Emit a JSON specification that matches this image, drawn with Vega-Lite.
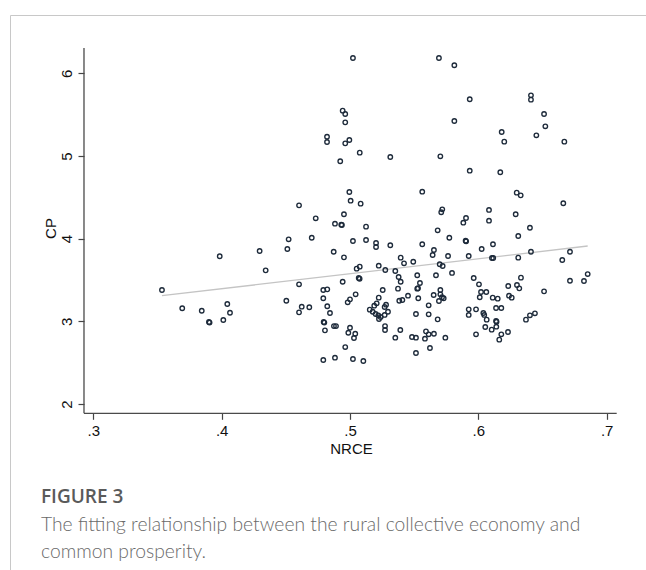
{
  "$schema": "https://vega.github.io/schema/vega-lite/v6.json",
  "width": 636,
  "height": 555,
  "autosize": "none",
  "padding": {"left": 10, "top": 15, "right": 0, "bottom": 0},
  "background": "white",
  "config": {
    "view": {"stroke": "#c8c8c8", "strokeWidth": 1},
    "axis": {"grid": false, "domain": false}
  },
  "title": {
    "text": "FIGURE 3",
    "subtitle": ["The fitting relationship between the rural collective economy and", "common prosperity."],
    "orient": "bottom",
    "anchor": "start",
    "frame": "group",
    "baseline": "top",
    "offset": -82,
    "dx": 31,
    "font": "Open Sans",
    "fontSize": 19,
    "fontWeight": 600,
    "color": "#5a5a5a",
    "subtitleFont": "Lato",
    "subtitleFontSize": 19.3,
    "subtitleFontWeight": 300,
    "subtitleColor": "#6a6a6a",
    "subtitlePadding": 9,
    "subtitleLineHeight": 27
  },
  "datasets": {
    "axislines": [
      {"x": 0.29275, "y": 1.8875, "x2": 0.29275, "y2": 6.306},
      {"x": 0.29275, "y": 1.8875, "x2": 0.7078, "y2": 1.8875}
    ],
    "fit": [
      {"x": 0.3535, "y": 3.31},
      {"x": 0.6852, "y": 3.911}
    ],
    "points": [
      {"x": 0.5023, "y": 6.185}, {"x": 0.5693, "y": 6.185}, {"x": 0.5813, "y": 6.097},
      {"x": 0.5933, "y": 5.686}, {"x": 0.641, "y": 5.734}, {"x": 0.641, "y": 5.681},
      {"x": 0.6512, "y": 5.508}, {"x": 0.4943, "y": 5.548}, {"x": 0.4963, "y": 5.508},
      {"x": 0.4963, "y": 5.407}, {"x": 0.5813, "y": 5.423}, {"x": 0.6182, "y": 5.29},
      {"x": 0.6202, "y": 5.173}, {"x": 0.6522, "y": 5.359}, {"x": 0.6452, "y": 5.25},
      {"x": 0.667, "y": 5.173}, {"x": 0.4995, "y": 5.193}, {"x": 0.4963, "y": 5.153},
      {"x": 0.5076, "y": 5.04}, {"x": 0.5314, "y": 4.988}, {"x": 0.5704, "y": 4.996},
      {"x": 0.4924, "y": 4.936}, {"x": 0.5933, "y": 4.822}, {"x": 0.6171, "y": 4.803},
      {"x": 0.5563, "y": 4.568}, {"x": 0.4995, "y": 4.564}, {"x": 0.6299, "y": 4.556},
      {"x": 0.633, "y": 4.524}, {"x": 0.4821, "y": 5.233}, {"x": 0.4821, "y": 5.169},

      {"x": 0.3535, "y": 3.379}, {"x": 0.3693, "y": 3.158}, {"x": 0.3845, "y": 3.128},
      {"x": 0.4044, "y": 3.21}, {"x": 0.4065, "y": 3.104}, {"x": 0.4013, "y": 3.016},
      {"x": 0.3901, "y": 2.992}, {"x": 0.3906, "y": 2.985}, {"x": 0.3985, "y": 3.787},
      {"x": 0.4296, "y": 3.851}, {"x": 0.4343, "y": 3.617}, {"x": 0.4504, "y": 3.249},
      {"x": 0.4512, "y": 3.875}, {"x": 0.4522, "y": 3.992}, {"x": 0.4603, "y": 4.403},
      {"x": 0.4702, "y": 4.011}, {"x": 0.4603, "y": 3.448}, {"x": 0.4792, "y": 3.379},
      {"x": 0.4823, "y": 3.387}, {"x": 0.4624, "y": 3.177}, {"x": 0.4683, "y": 3.17},
      {"x": 0.4603, "y": 3.109}, {"x": 0.4792, "y": 3.279}, {"x": 0.4823, "y": 3.182},
      {"x": 0.4844, "y": 3.101}, {"x": 0.4795, "y": 2.992}, {"x": 0.48, "y": 2.985},
      {"x": 0.4805, "y": 2.891}, {"x": 0.4792, "y": 2.532}, {"x": 0.4733, "y": 4.246},

      {"x": 0.5005, "y": 4.459}, {"x": 0.5083, "y": 4.423}, {"x": 0.6662, "y": 4.428},
      {"x": 0.4953, "y": 4.295}, {"x": 0.5719, "y": 4.355}, {"x": 0.5711, "y": 4.319},
      {"x": 0.6083, "y": 4.347}, {"x": 0.6291, "y": 4.295}, {"x": 0.5904, "y": 4.25},
      {"x": 0.5883, "y": 4.193}, {"x": 0.6083, "y": 4.217}, {"x": 0.4883, "y": 4.181},
      {"x": 0.4932, "y": 4.169}, {"x": 0.4937, "y": 4.165}, {"x": 0.5125, "y": 4.145},
      {"x": 0.6402, "y": 4.132}, {"x": 0.5683, "y": 4.101}, {"x": 0.6311, "y": 4.032},
      {"x": 0.5774, "y": 4.011}, {"x": 0.5023, "y": 3.972}, {"x": 0.5125, "y": 3.984},
      {"x": 0.5203, "y": 3.947}, {"x": 0.5203, "y": 3.899}, {"x": 0.5314, "y": 3.92},
      {"x": 0.5563, "y": 3.932}, {"x": 0.5901, "y": 3.975}, {"x": 0.5905, "y": 3.968},
      {"x": 0.6114, "y": 3.932}, {"x": 0.4873, "y": 3.842}, {"x": 0.5654, "y": 3.863},
      {"x": 0.5644, "y": 3.802}, {"x": 0.6026, "y": 3.875}, {"x": 0.641, "y": 3.842},
      {"x": 0.6714, "y": 3.842}, {"x": 0.4953, "y": 3.774}, {"x": 0.5395, "y": 3.77},
      {"x": 0.5421, "y": 3.702}, {"x": 0.5493, "y": 3.721}, {"x": 0.5764, "y": 3.79},
      {"x": 0.5925, "y": 3.79}, {"x": 0.6106, "y": 3.766}, {"x": 0.6116, "y": 3.766},
      {"x": 0.6311, "y": 3.77}, {"x": 0.6654, "y": 3.742}, {"x": 0.5052, "y": 3.637},
      {"x": 0.5076, "y": 3.661}, {"x": 0.5224, "y": 3.673}, {"x": 0.5275, "y": 3.621},
      {"x": 0.5353, "y": 3.609}, {"x": 0.5699, "y": 3.69}, {"x": 0.5722, "y": 3.669},
      {"x": 0.5795, "y": 3.585}, {"x": 0.567, "y": 3.557}, {"x": 0.5524, "y": 3.557},
      {"x": 0.5068, "y": 3.524}, {"x": 0.5075, "y": 3.515}, {"x": 0.5379, "y": 3.536},
      {"x": 0.5395, "y": 3.479}, {"x": 0.4943, "y": 3.479}, {"x": 0.5964, "y": 3.524},
      {"x": 0.6005, "y": 3.448}, {"x": 0.6852, "y": 3.572}, {"x": 0.6714, "y": 3.491},
      {"x": 0.6823, "y": 3.488}, {"x": 0.6332, "y": 3.528}, {"x": 0.5545, "y": 3.464},
      {"x": 0.5524, "y": 3.395}, {"x": 0.553, "y": 3.4}, {"x": 0.5255, "y": 3.379},
      {"x": 0.5374, "y": 3.395}, {"x": 0.5704, "y": 3.379}, {"x": 0.5704, "y": 3.327},
      {"x": 0.6301, "y": 3.439}, {"x": 0.6319, "y": 3.399}, {"x": 0.6233, "y": 3.427},
      {"x": 0.6512, "y": 3.363}, {"x": 0.5044, "y": 3.327}, {"x": 0.5452, "y": 3.31},
      {"x": 0.5652, "y": 3.318}, {"x": 0.573, "y": 3.279}, {"x": 0.5717, "y": 3.291},
      {"x": 0.6021, "y": 3.355}, {"x": 0.6062, "y": 3.355}, {"x": 0.6011, "y": 3.291},
      {"x": 0.6112, "y": 3.286}, {"x": 0.6151, "y": 3.274}, {"x": 0.6239, "y": 3.31},
      {"x": 0.626, "y": 3.286}, {"x": 0.5224, "y": 3.286}, {"x": 0.5532, "y": 3.279},
      {"x": 0.5, "y": 3.266}, {"x": 0.4982, "y": 3.23}, {"x": 0.5408, "y": 3.258},
      {"x": 0.5384, "y": 3.249}, {"x": 0.5693, "y": 3.246}, {"x": 0.5208, "y": 3.218},
      {"x": 0.5189, "y": 3.189}, {"x": 0.5281, "y": 3.201}, {"x": 0.527, "y": 3.173},
      {"x": 0.5613, "y": 3.194}, {"x": 0.6138, "y": 3.161}, {"x": 0.6179, "y": 3.161},
      {"x": 0.5154, "y": 3.141}, {"x": 0.5177, "y": 3.116}, {"x": 0.5296, "y": 3.116},
      {"x": 0.5925, "y": 3.145}, {"x": 0.5925, "y": 3.077}, {"x": 0.5982, "y": 3.145},
      {"x": 0.6039, "y": 3.101}, {"x": 0.6046, "y": 3.077}, {"x": 0.6065, "y": 3.02},
      {"x": 0.6441, "y": 3.097}, {"x": 0.6402, "y": 3.073}, {"x": 0.6371, "y": 3.02},
      {"x": 0.5514, "y": 3.089}, {"x": 0.5613, "y": 3.085}, {"x": 0.5221, "y": 3.073},
      {"x": 0.5239, "y": 3.052}, {"x": 0.527, "y": 3.077}, {"x": 0.52, "y": 3.089},
      {"x": 0.5226, "y": 3.028}, {"x": 0.5683, "y": 3.024}, {"x": 0.6138, "y": 3.004},
      {"x": 0.6142, "y": 2.995}, {"x": 0.4875, "y": 2.943}, {"x": 0.4891, "y": 2.943},
      {"x": 0.5, "y": 2.923}, {"x": 0.4987, "y": 2.862}, {"x": 0.5041, "y": 2.85},
      {"x": 0.5031, "y": 2.798}, {"x": 0.5273, "y": 2.943}, {"x": 0.5273, "y": 2.895},
      {"x": 0.5392, "y": 2.895}, {"x": 0.6054, "y": 2.931}, {"x": 0.6104, "y": 2.899},
      {"x": 0.614, "y": 2.935}, {"x": 0.6231, "y": 2.871}, {"x": 0.6179, "y": 2.843},
      {"x": 0.6163, "y": 2.778}, {"x": 0.5982, "y": 2.843}, {"x": 0.5592, "y": 2.879},
      {"x": 0.5613, "y": 2.843}, {"x": 0.5654, "y": 2.85}, {"x": 0.5584, "y": 2.79},
      {"x": 0.5483, "y": 2.81}, {"x": 0.5514, "y": 2.802}, {"x": 0.5353, "y": 2.802},
      {"x": 0.5743, "y": 2.802}, {"x": 0.4963, "y": 2.689}, {"x": 0.5623, "y": 2.677},
      {"x": 0.5514, "y": 2.617}, {"x": 0.4883, "y": 2.56}, {"x": 0.5023, "y": 2.544},
      {"x": 0.5104, "y": 2.52}
    ]
  },
  "layer": [
    {
      "data": {"name": "axislines"},
      "mark": {"type": "rule", "color": "#4a4a4a", "strokeWidth": 1.3},
      "encoding": {
        "x": {
          "field": "x", "type": "quantitative",
          "scale": {"domain": [0.2351, 0.73063], "nice": false, "zero": false},
          "axis": {
            "orient": "bottom", "offset": -156.7,
            "values": [0.3, 0.4, 0.5, 0.6, 0.7],
            "labelExpr": "'.' + round(datum.value * 10)",
            "tickSize": 6, "tickColor": "#444444", "tickWidth": 1.2,
            "labelFont": "Liberation Sans", "labelFontSize": 15, "labelColor": "#111111",
            "labelPadding": 4, "labelFlush": false, "labelOverlap": false,
            "title": "NRCE", "titleFont": "Liberation Sans", "titleFontSize": 15,
            "titleFontWeight": "normal", "titleColor": "#111111",
            "titleX": 341, "titleY": 35, "titleAlign": "center", "titleBaseline": "middle"
          }
        },
        "y": {
          "field": "y", "type": "quantitative",
          "scale": {"domain": [-0.00786, 6.7052], "nice": false, "zero": false},
          "axis": {
            "orient": "left", "offset": -74,
            "values": [2, 3, 4, 5, 6], "format": "d",
            "tickSize": 6, "tickColor": "#444444", "tickWidth": 1.2,
            "labelAngle": 270, "labelAlign": "center", "labelBaseline": "bottom",
            "labelFont": "Liberation Sans", "labelFontSize": 15, "labelColor": "#111111",
            "labelPadding": 4, "labelFlush": false, "labelOverlap": false,
            "title": "CP", "titleFont": "Liberation Sans", "titleFontSize": 15,
            "titleFontWeight": "normal", "titleColor": "#111111",
            "titleAngle": 270, "titleX": -34, "titleY": 213,
            "titleAlign": "center", "titleBaseline": "middle"
          }
        },
        "x2": {"field": "x2"},
        "y2": {"field": "y2"}
      }
    },
    {
      "data": {"name": "fit"},
      "mark": {"type": "line", "color": "#c4c4c4", "strokeWidth": 1.3},
      "encoding": {
        "x": {"field": "x", "type": "quantitative"},
        "y": {"field": "y", "type": "quantitative"}
      }
    },
    {
      "data": {"name": "points"},
      "mark": {"type": "point", "shape": "circle", "filled": false, "size": 20, "strokeWidth": 1.35, "color": "#1d2a3a", "opacity": 1},
      "encoding": {
        "x": {"field": "x", "type": "quantitative"},
        "y": {"field": "y", "type": "quantitative"}
      }
    }
  ]
}
